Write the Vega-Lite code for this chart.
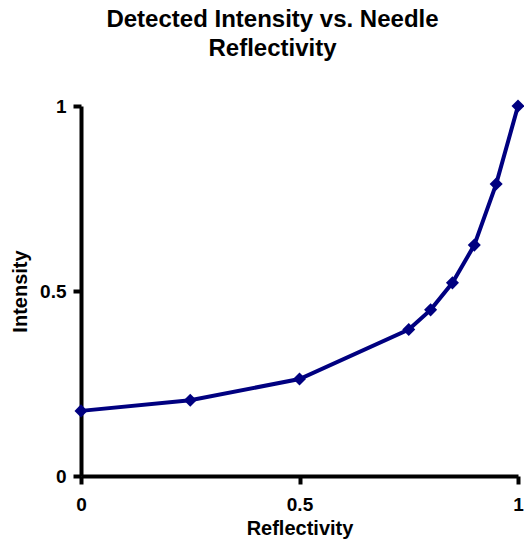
{
  "$schema": "https://vega.github.io/schema/vega-lite/v6.json",
  "width": 437,
  "height": 370,
  "autosize": {"type": "none"},
  "padding": {"left": 81, "top": 106, "right": 6, "bottom": 68},
  "background": "white",
  "title": {
    "text": ["Detected Intensity vs. Needle", "Reflectivity"],
    "font": "Liberation Sans",
    "fontSize": 24,
    "fontWeight": "bold",
    "color": "black",
    "lineHeight": 29,
    "anchor": "middle",
    "frame": "group",
    "dx": -27,
    "offset": 36
  },
  "data": {
    "values": [
      {"Reflectivity": 0, "Intensity": 0.176},
      {"Reflectivity": 0.25, "Intensity": 0.205},
      {"Reflectivity": 0.5, "Intensity": 0.262},
      {"Reflectivity": 0.75, "Intensity": 0.396},
      {"Reflectivity": 0.8, "Intensity": 0.449},
      {"Reflectivity": 0.85, "Intensity": 0.522},
      {"Reflectivity": 0.9, "Intensity": 0.624},
      {"Reflectivity": 0.95, "Intensity": 0.789},
      {"Reflectivity": 1, "Intensity": 1.0}
    ]
  },
  "mark": {
    "type": "line",
    "color": "#000080",
    "strokeWidth": 4,
    "clip": false,
    "point": {"shape": "diamond", "size": 170, "filled": true, "color": "#000080", "opacity": 1}
  },
  "encoding": {
    "x": {
      "field": "Reflectivity",
      "type": "quantitative",
      "scale": {"domain": [0, 1], "nice": false, "zero": false},
      "axis": {"values": [0, 0.5, 1], "format": "~g", "title": "Reflectivity", "titlePadding": 4, "labelPadding": 11}
    },
    "y": {
      "field": "Intensity",
      "type": "quantitative",
      "scale": {"domain": [0, 1], "nice": false, "zero": false},
      "axis": {"values": [0, 0.5, 1], "format": "~g", "title": "Intensity", "titlePadding": 9, "labelPadding": 7}
    }
  },
  "config": {
    "view": {"stroke": null},
    "axis": {
      "grid": false,
      "domainColor": "black",
      "domainWidth": 4,
      "tickColor": "black",
      "tickWidth": 4,
      "tickSize": 8,
      "labelFont": "Liberation Sans",
      "labelFontSize": 19,
      "labelFontWeight": "bold",
      "labelColor": "black",
      "labelFlush": false,
      "labelOverlap": false,
      "titleFont": "Liberation Sans",
      "titleFontSize": 20,
      "titleFontWeight": "bold",
      "titleColor": "black"
    }
  }
}
